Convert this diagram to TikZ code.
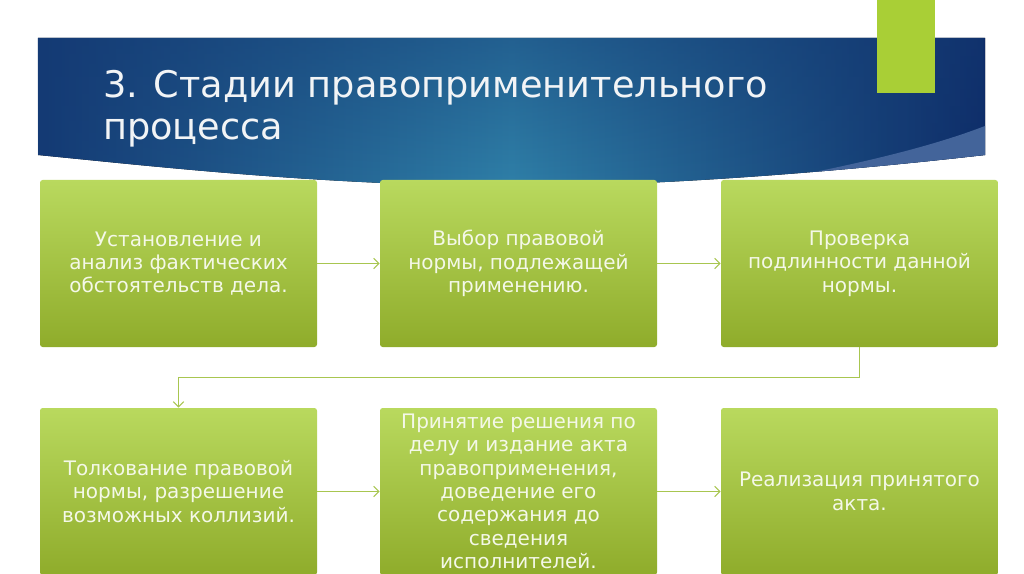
\documentclass[tikz,border=0pt]{standalone}
\usepackage{fontspec}
\setmainfont{DejaVu Sans}
\usetikzlibrary{arrows.meta,fadings}

\definecolor{navyleft}{HTML}{143A74}
\definecolor{tealmid}{HTML}{2F80A8}
\definecolor{navyright}{HTML}{0E2C68}
\definecolor{bandblue}{HTML}{43649A}
\definecolor{tabgreen}{HTML}{A9CF36}
\definecolor{boxtop}{HTML}{B9D95E}
\definecolor{boxbot}{HTML}{8FAC2B}
\definecolor{linegreen}{HTML}{A8C650}
\definecolor{boxtext}{HTML}{F4F8E8}
\definecolor{titletext}{HTML}{F2F4F6}

\tikzset{
  stagebox/.style={rectangle, rounded corners=2pt, top color=boxtop, bottom color=boxbot,
    minimum width=207.75pt, minimum height=125.25pt, inner sep=0pt, align=center,
    text=boxtext, font=\fontsize{15}{17.5}\selectfont},
  flowarrow/.style={draw=linegreen, line width=0.8pt, -{Straight Barb[length=4pt,width=8pt]}}
}

\begin{document}
\begin{tikzpicture}[x=0.75pt,y=-0.75pt]
  \useasboundingbox (0,0) rectangle (1024,574);

  % banner
  \def\bannerpath{(38,38) -- (985,38) -- (985,155) .. controls (800,176) and (620,188) .. (480,186) .. controls (300,183) and (150,166) .. (38,155) -- cycle}
  \fill[left color=navyleft, right color=navyright, middle color=tealmid] \bannerpath;
  \fill[navyleft, opacity=0.45, path fading=south] \bannerpath;
  \begin{scope}
    \clip \bannerpath;
    \fill[bandblue] (990,124) .. controls (920,152) and (820,172) .. (720,190) -- (1000,200) -- cycle;
  \end{scope}
  \fill[tabgreen] (877,0) rectangle (935,93);

  % title, two lines: base is the last line
  \node[anchor=base west, align=left, inner sep=0pt, text=titletext, font=\fontsize{27.5}{32}\selectfont]
    (title) at (103,140) {3. Стадии правоприменительного\\процесса};

  % stages
  \node[stagebox] (s1) at (178.5,263.5) {Установление и\\анализ фактических\\обстоятельств дела.};
  \node[stagebox] (s2) at (518.5,263.5) {Выбор правовой\\нормы, подлежащей\\применению.};
  \node[stagebox] (s3) at (859.5,263.5) {Проверка\\подлинности данной\\нормы.};
  \node[stagebox] (s4) at (178.5,491.5) {Толкование правовой\\нормы, разрешение\\возможных коллизий.};
  \node[stagebox] (s5) at (518.5,491.5) {Принятие решения по\\делу и издание акта\\правоприменения,\\доведение его\\содержания до\\сведения\\исполнителей.};
  \node[stagebox] (s6) at (859.5,491.5) {Реализация принятого\\акта.};

  \draw[flowarrow] (s1) -- (s2);
  \draw[flowarrow] (s2) -- (s3);
  \draw[flowarrow] (s3.south) -- ++(0,30) -| (s4.north);
  \draw[flowarrow] (s4) -- (s5);
  \draw[flowarrow] (s5) -- (s6);

\end{tikzpicture}
\end{document}
